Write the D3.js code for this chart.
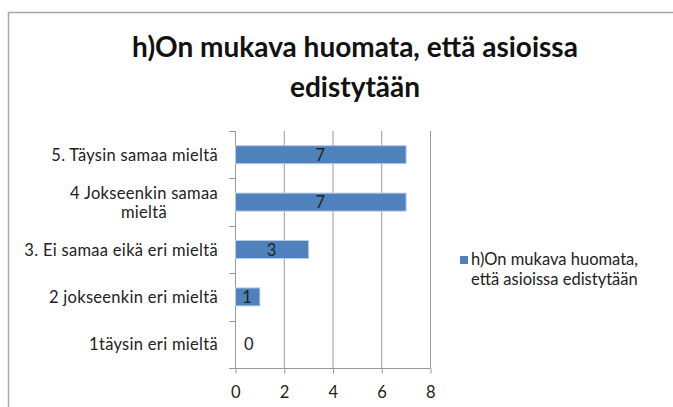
<!DOCTYPE html>
<html>
<head>
<meta charset="utf-8">
<script src="https://cdn.jsdelivr.net/npm/d3@7"></script>
<style>
  html, body { margin: 0; padding: 0; background: #fff; }
  svg { display: block; }
</style>
</head>
<body>
<svg id="chart" width="673" height="407"></svg>
<script>
const categories = [
  "5. Täysin samaa mieltä",
  "4 Jokseenkin samaa mieltä",
  "3. Ei samaa eikä eri mieltä",
  "2 jokseenkin eri  mieltä",
  "1täysin eri mieltä"
];
const categoryLines = [
  ["5. Täysin samaa mieltä"],
  ["4 Jokseenkin samaa", "mieltä"],
  ["3. Ei samaa eikä eri mieltä"],
  ["2 jokseenkin eri  mieltä"],
  ["1täysin eri mieltä"]
];
const values = [7, 7, 3, 1, 0];
const xTicks = [0, 2, 4, 6, 8];
const titleLines = ["h)On mukava huomata, että asioissa", "edistytään"];
const legendLines = ["h)On mukava huomata,", "että asioissa edistytään"];

const font = "Lato, 'Open Sans', sans-serif";
const svg = d3.select("#chart");

// frame
svg.append("line").attr("x1", 8).attr("x2", 673).attr("y1", 12.5).attr("y2", 12.5)
  .attr("stroke", "#a6a6a6").attr("stroke-width", 1.5);
svg.append("line").attr("x1", 8.5).attr("x2", 8.5).attr("y1", 12).attr("y2", 407)
  .attr("stroke", "#a6a6a6").attr("stroke-width", 1.5);

// title
svg.append("text")
  .attr("x", 355).attr("y", 57)
  .attr("text-anchor", "middle")
  .style("font-family", font).style("font-weight", "bold").style("font-size", "28px")
  .attr("fill", "#111")
  .selectAll("tspan").data(titleLines).join("tspan")
  .attr("x", 355).attr("dy", (d, i) => i === 0 ? 0 : 40)
  .text(d => d);

const x = d3.scaleLinear().domain([0, 8]).range([235, 430]);
const y = d3.scaleBand().domain(categories).range([131, 368]).paddingInner(0.62).paddingOuter(0.31);

const labelStyle = sel => sel.style("font-family", font).style("font-size", "16.5px")
  .style("letter-spacing", "0.3px").attr("fill", "#222");

// gridlines
svg.append("g").selectAll("line").data(xTicks.slice(1)).join("line")
  .attr("x1", d => x(d) + 0.5).attr("x2", d => x(d) + 0.5)
  .attr("y1", 131).attr("y2", 368)
  .attr("stroke", "#999").attr("stroke-width", 1);

// x axis
const xAxis = d3.axisBottom(x).tickValues(xTicks).tickSize(5).tickPadding(13).tickSizeOuter(0);
const gx = svg.append("g").attr("transform", "translate(0.5,368.5)").call(xAxis);
gx.select(".domain").attr("stroke", "#999").attr("d", `M${235 - 6 - 0.5},0H${430}`);
gx.selectAll(".tick line").attr("stroke", "#999");
gx.selectAll(".tick text").call(labelStyle);

// y axis line + ticks at band boundaries
const boundaries = d3.range(categories.length + 1).map(i => 131 + i * (368 - 131) / categories.length);
svg.append("line").attr("x1", 235.5).attr("x2", 235.5).attr("y1", 131).attr("y2", 368)
  .attr("stroke", "#999");
svg.append("g").selectAll("line").data(boundaries).join("line")
  .attr("x1", 229).attr("x2", 235).attr("y1", d => Math.round(d) + 0.5).attr("y2", d => Math.round(d) + 0.5)
  .attr("stroke", "#999");

// category labels
const catG = svg.append("g");
categories.forEach((c, i) => {
  const lines = categoryLines[i];
  const cy = y(c) + y.bandwidth() / 2;
  const lh = 19;
  const t = catG.append("text").attr("text-anchor", "end").call(labelStyle);
  lines.forEach((l, j) => {
    t.append("tspan")
      .attr("x", 218)
      .attr("y", cy + 6 + (j - (lines.length - 1) / 2) * lh)
      .text(l);
  });
});
// second line of 4 is centered under first in reference
catG.selectAll("text").filter((d, i) => i === 1).each(function() {
  const ts = d3.select(this).selectAll("tspan").nodes();
  const w0 = ts[0].getComputedTextLength();
  d3.select(ts[1]).attr("text-anchor", "middle").attr("x", 218 - w0 / 2);
});

// bars
svg.append("g").selectAll("rect").data(values).join("rect")
  .attr("x", x(0) + 0.5)
  .attr("y", (d, i) => y(categories[i]))
  .attr("width", d => Math.max(0, x(d) - x(0)))
  .attr("height", y.bandwidth())
  .attr("fill", d => d > 0 ? "#4f81bd" : "none")
  .attr("stroke", d => d > 0 ? "#b9cde5" : "none")
  .attr("stroke-width", 1);

// data labels
svg.append("g").selectAll("text").data(values).join("text")
  .attr("x", d => d > 0 ? (x(0) + x(d)) / 2 : x(0) + 14)
  .attr("y", (d, i) => y(categories[i]) + y.bandwidth() / 2 + 6)
  .attr("text-anchor", "middle")
  .call(labelStyle)
  .text(d => d);

// legend
svg.append("rect").attr("x", 460).attr("y", 256).attr("width", 8).attr("height", 8)
  .attr("fill", "#4f81bd");
svg.append("text")
  .style("font-family", font).style("font-size", "16.5px").attr("fill", "#222")
  .selectAll("tspan").data(legendLines).join("tspan")
  .attr("x", 471).attr("y", (d, i) => 265 + i * 20)
  .text(d => d);
</script>
</body>
</html>
